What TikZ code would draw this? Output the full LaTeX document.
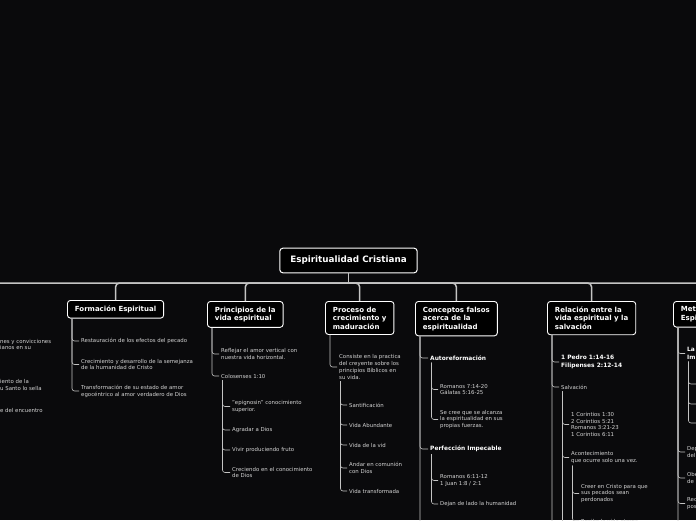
\documentclass[tikz,border=0pt]{standalone}
\usepackage{fontspec}
\setmainfont{DejaVu Sans}
\usepackage{xcolor}
\usepackage{tikz}
\usetikzlibrary{positioning}

\definecolor{bgcol}{HTML}{0A0A0C}
\definecolor{linecol}{HTML}{C4C4C4}
\definecolor{itemcol}{HTML}{D4D4D4}

\begin{document}
\begin{tikzpicture}[
        x=1pt, y=-1pt,
        root/.style={rectangle, draw=white, line width=1pt, rounded corners=3pt, fill=black, text=white, font=\fontsize{8.8}{10}\selectfont\bfseries, inner xsep=10.5pt, inner ysep=8pt},
        topic/.style={rectangle, draw=white, line width=0.9pt, rounded corners=3pt, fill=black, text=white, align=left, font=\fontsize{7}{8.5}\selectfont\bfseries, inner xsep=7.5pt, inner ysep=5.3pt, anchor=north west},
        item/.style={anchor=west, align=left, text=itemcol, inner sep=2pt, font=\fontsize{5.4}{6.8}\selectfont},
        head/.style={item, text=white, font=\fontsize{5.9}{7.6}\selectfont\bfseries},
        branch/.style={draw=linecol, line width=1.5pt, rounded corners=4pt},
        link/.style={draw=linecol, line width=0.6pt, rounded corners=2.5pt}
    ]
        % Background and frame
        \fill[bgcol] (0,0) rectangle (696,520);
        \clip (0,0) rectangle (696,520);

        % Central topic
        \node[root] (root) at (348.5,260.5) {Espiritualidad Cristiana};
        \coordinate (hub) at (348.5,283);
        \coordinate (lbox) at (-60,300);

        % Main topics
        \node[topic] (fe) at (67,300) {Formación Espiritual};
        \node[topic] (pv) at (207,301) {Principios de la\\vida espiritual};
        \node[topic] (pc) at (325,301) {Proceso de\\crecimiento y\\maduración};
        \node[topic] (cf) at (415,301) {Conceptos falsos\\acerca de la\\espiritualidad};
        \node[topic] (rv) at (547,301) {Relación entre la\\vida espiritual y la\\salvación};
        \node[topic, text width=70pt] (mt) at (673,301) {Met\\Espi};

        % Branches
        \draw[branch] (root.south) -- (hub);
        \draw[branch] (hub) -| (lbox);
        \draw[branch] (hub) -| (fe.north);
        \draw[branch] (hub) -| (pv.north);
        \draw[branch] (hub) -| (pc.north);
        \draw[branch] (hub) -| (cf.north);
        \draw[branch] (hub) -| (rv.north);
        \draw[branch] (hub) -| (mt.north);

        % Left topic (cut off)
        \node[item, inner sep=0pt] (lf1) at (0,344.5) {nes y convicciones\\ianos en su};
        \node[item, inner sep=0pt] (lf2) at (0,385) {iento de la\\u Santo lo sella};
        \node[item, inner sep=0pt] (lf3) at (0,410) {e del encuentro};

        % Formacion Espiritual
        \node[item] (fe1) at (79,341) {Restauración de los efectos del pecado};
        \node[item] (fe2) at (79,364.5) {Crecimiento y desarrollo de la semejanza\\de la humanidad de Cristo};
        \node[item] (fe3) at (79,391) {Transformación de su estado de amor\\egocéntrico al amor verdadero de Dios};
        \draw[link] ([xshift=5pt]fe.south west) |- (fe1.west);
        \draw[link] ([xshift=5pt]fe.south west) |- (fe2.west);
        \draw[link] ([xshift=5pt]fe.south west) |- (fe3.west);

        % Principios de la vida espiritual
        \node[item] (pv1) at (219,354) {Reflejar el amor vertical con\\nuestra vida horizontal.};
        \node[item] (pv2) at (219,376) {Colosenses 1:10};
        \node[item] (pv21) at (230,406.5) {"epignosin" conocimiento\\superior.};
        \node[item] (pv22) at (230,430) {Agradar a Dios};
        \node[item] (pv23) at (230,450) {Vivir produciendo fruto};
        \node[item] (pv24) at (230,472.5) {Creciendo en el conocimiento\\de Dios};
        \draw[link] ([xshift=5pt]pv.south west) |- (pv1.west);
        \draw[link] ([xshift=5pt]pv.south west) |- (pv2.west);
        \draw[link] ([xshift=3.5pt]pv2.south west) |- (pv21.west);
        \draw[link] ([xshift=3.5pt]pv2.south west) |- (pv22.west);
        \draw[link] ([xshift=3.5pt]pv2.south west) |- (pv23.west);
        \draw[link] ([xshift=3.5pt]pv2.south west) |- (pv24.west);

        % Proceso de crecimiento y maduracion
        \node[item] (pc1) at (337,367) {Consiste en la practica\\del creyente sobre los\\principios Bíblicos en\\su vida.};
        \node[item] (pc11) at (347,405) {Santificación};
        \node[item] (pc12) at (347,425) {Vida Abundante};
        \node[item] (pc13) at (347,445) {Vida de la vid};
        \node[item] (pc14) at (347,468) {Andar en comunión\\con Dios};
        \node[item] (pc15) at (347,491) {Vida transformada};
        \draw[link] ([xshift=5pt]pc.south west) |- (pc1.west);
        \draw[link] ([xshift=3.5pt]pc1.south west) |- (pc11.west);
        \draw[link] ([xshift=3.5pt]pc1.south west) |- (pc12.west);
        \draw[link] ([xshift=3.5pt]pc1.south west) |- (pc13.west);
        \draw[link] ([xshift=3.5pt]pc1.south west) |- (pc14.west);
        \draw[link] ([xshift=3.5pt]pc1.south west) |- (pc15.west);

        % Conceptos falsos acerca de la espiritualidad
        \node[head] (cf1) at (428,358) {Autoreformación};
        \node[item] (cf11) at (438,389.5) {Romanos 7:14-20\\Gálatas 5:16-25};
        \node[item] (cf12) at (438,419.5) {Se cree que se alcanza\\la espiritualidad en sus\\propias fuerzas.};
        \node[head] (cf2) at (428,449) {Perfección Impecable};
        \node[item] (cf21) at (438,480.5) {Romanos 6:11-12\\1 Juan 1:8 / 2:1};
        \node[item] (cf22) at (438,504) {Dejan de lado la humanidad};
        \coordinate (cfmore) at (430,560);
        \draw[link] ([xshift=5pt]cf.south west) |- (cf1.west);
        \draw[link] ([xshift=5pt]cf.south west) |- (cf2.west);
        \draw[link] ([xshift=5pt]cf.south west) |- (cfmore);
        \draw[link] ([xshift=3.5pt]cf1.south west) |- (cf11.west);
        \draw[link] ([xshift=3.5pt]cf1.south west) |- (cf12.west);
        \draw[link] ([xshift=3.5pt]cf2.south west) |- (cf21.west);
        \draw[link] ([xshift=3.5pt]cf2.south west) |- (cf22.west);

        % Relacion entre la vida espiritual y la salvacion
        \node[head] (rv1) at (559,362) {1 Pedro 1:14-16\\Filipenses 2:12-14};
        \node[item] (rv2) at (559,387) {Salvación};
        \node[item] (rv21) at (569,424.5) {1 Corintios 1:30\\2 Corintios 5:21\\Romanos 3:21-23\\1 Corintios 6:11};
        \node[item] (rv22) at (569,457.5) {Acontecimiento\\que ocurre solo una vez.};
        \node[item] (rv221) at (579,493.5) {Creer en Cristo para que\\sus pecados sean\\perdonados};
        \node[item] (rv222) at (579,521) {Recibe la vida eterna};
        \coordinate (rvmore) at (560,560);
        \coordinate (rv2more) at (570,560);
        \draw[link] ([xshift=5pt]rv.south west) |- (rv1.west);
        \draw[link] ([xshift=5pt]rv.south west) |- (rv2.west);
        \draw[link] ([xshift=5pt]rv.south west) |- (rvmore);
        \draw[link] ([xshift=3.5pt]rv2.south west) |- (rv21.west);
        \draw[link] ([xshift=3.5pt]rv2.south west) |- (rv22.west);
        \draw[link] ([xshift=3.5pt]rv2.south west) |- (rv2more);
        \draw[link] ([xshift=3.5pt]rv22.south west) |- (rv221.west);
        \draw[link] ([xshift=3.5pt]rv22.south west) |- (rv222.west);

        % Right topic (cut off)
        \node[head] (mt1) at (685,353.5) {La\\Im};
        \node[item] (mt2) at (685,452) {Dep\\del};
        \node[item] (mt3) at (685,478) {Obe\\de};
        \node[item] (mt4) at (685,503.5) {Rec\\pos};
        \coordinate (mt11) at (696,384);
        \coordinate (mt12) at (696,404);
        \coordinate (mt13) at (696,423);
        \coordinate (mtmore) at (690,560);
        \draw[link] ([xshift=5pt]mt.south west) |- (mt1.west);
        \draw[link] ([xshift=5pt]mt.south west) |- (mt2.west);
        \draw[link] ([xshift=5pt]mt.south west) |- (mt3.west);
        \draw[link] ([xshift=5pt]mt.south west) |- (mt4.west);
        \draw[link] ([xshift=5pt]mt.south west) |- (mtmore);
        \draw[link] ([xshift=3.5pt]mt1.south west) |- (mt11);
        \draw[link] ([xshift=3.5pt]mt1.south west) |- (mt12);
        \draw[link] ([xshift=3.5pt]mt1.south west) |- (mt13);
    \end{tikzpicture}
\end{document}
